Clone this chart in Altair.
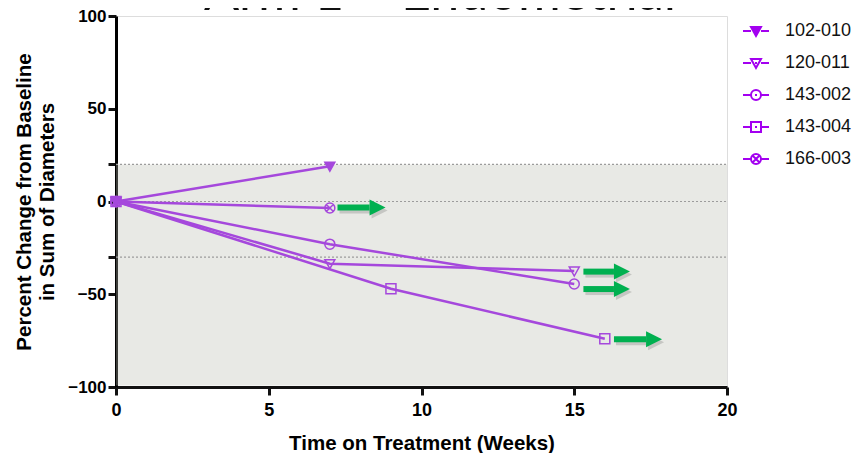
import altair as alt
import pandas as pd

# ---------------- data ----------------
TITLE = "Arm 1 – Endometrial"
SERIES = ["102-010", "120-011", "143-002", "143-004", "166-003"]
WEEKS = {
    "102-010": [0, 7],
    "120-011": [0, 7, 15],
    "143-002": [0, 7, 15],
    "143-004": [0, 9, 16],
    "166-003": [0, 7],
}
PCT = {
    "102-010": [0, 19],
    "120-011": [0, -33.5, -37.5],
    "143-002": [0, -23, -44.5],
    "143-004": [0, -47, -74],
    "166-003": [0, -3.5],
}
ARROW_SERIES = ["166-003", "120-011", "143-002", "143-004"]
ARROW_START = [7.25, 15.3, 15.3, 16.3]
ARROW_END = [8.3, 16.3, 16.3, 17.35]
ARROW_Y = [-3.3, -37.8, -47.2, -74.2]
BAND_X = [0, 20]
BAND_Y = [20, -100]
REF_LINES = [20, 0, -30]
X_TICKS = [0, 5, 10, 15, 20]
Y_TICKS = [-100, -50, -30, 0, 20, 50, 100]
X_DOMAIN = [0, 20]
Y_DOMAIN = [-100, 100]

# ---------------- styles ----------------
PURPLE = "#a548dc"
LEG_PURPLE = "#a300f0"
GREEN = "#00b050"
FONT = "Liberation Sans"

TRI = "M-1,-0.8L1,-0.8L0,1Z"
CIRC = "M-1,0A1,1 0 1,1 1,0A1,1 0 1,1 -1,0Z"
SQR = "M-1,-1L1,-1L1,1L-1,1Z"
CIRCX = CIRC + "M-0.7,-0.7L0.7,0.7M-0.7,0.7L0.7,-0.7"
SHAPES = [TRI, TRI, CIRC, SQR, CIRCX]
LINE_SEG = "M-2.6,0L-1,0M1,0L2.6,0M-0.2,0L0.2,0"
LEG_SHAPES = [LINE_SEG + s for s in SHAPES]
FILLS = [PURPLE, "transparent", "transparent", "transparent", "transparent"]
LEG_FILLS = [LEG_PURPLE, "transparent", "transparent", "transparent", "transparent"]
HEAD = "M0,-1L2,0L0,1Z"

rows = []
for s in SERIES:
    for w, p in zip(WEEKS[s], PCT[s]):
        rows.append({"series": s, "week": w, "pct": p})
df = pd.DataFrame(rows)

arrows = pd.DataFrame({"series": ARROW_SERIES, "x": ARROW_START,
                       "x2": ARROW_END, "y": ARROW_Y})
band = pd.DataFrame({"x": [BAND_X[0]], "x2": [BAND_X[1]],
                     "y": [BAND_Y[0]], "y2": [BAND_Y[1]]})
refs = pd.DataFrame({"y": REF_LINES, "x": [BAND_X[0]] * len(REF_LINES),
                     "x2": [BAND_X[1]] * len(REF_LINES)})
title_df = pd.DataFrame({"t": [TITLE]})

xscale = alt.Scale(domain=X_DOMAIN, nice=False, zero=False)
yscale = alt.Scale(domain=Y_DOMAIN, nice=False, zero=False)

x_axis = alt.Axis(values=X_TICKS, title="Time on Treatment (Weeks)", grid=False,
                  labelFont=FONT, labelFontWeight="bold", labelFontSize=18,
                  labelColor="#000", labelPadding=6, labelFlush=False,
                  domainColor="#111", domainWidth=3, tickColor="#111",
                  tickWidth=3, tickSize=8, titleFont=FONT, titleFontWeight="bold",
                  titleFontSize=20.5, titleColor="#000", titlePadding=14, zindex=0)
y_axis = alt.Axis(values=Y_TICKS, title=["Percent Change from Baseline", "in Sum of Diameters"],
                  grid=False, labelExpr="(datum.value == 20 || datum.value == -30) ? '' : datum.label",
                  labelFont=FONT, labelFontWeight="bold", labelFontSize=17,
                  labelColor="#000", labelPadding=2, labelFlush=False,
                  domainColor="#000", domainWidth=3, tickColor="#111",
                  tickWidth=3, tickSize=8, titleFont=FONT, titleFontWeight="bold",
                  titleFontSize=20.5, titleColor="#000", titlePadding=10,
                  titleLineHeight=23, zindex=0)

band_layer = alt.Chart(band).mark_rect(color="#b8bbaf", opacity=0.325, y2Offset=-1.5).encode(
    x=alt.X("x:Q", scale=xscale, axis=x_axis), x2="x2:Q",
    y=alt.Y("y:Q", scale=yscale, axis=y_axis), y2="y2:Q")

ref_layer = alt.Chart(refs).mark_rule(color="#9c9c9c", strokeWidth=1.2, strokeDash=[2, 2]).encode(
    x="x:Q", x2="x2:Q", y="y:Q")

line_layer = alt.Chart(df).mark_line(color=PURPLE, strokeWidth=2.5).encode(
    x="week:Q", y="pct:Q", detail="series:N", order="week:Q")

point_layers = []
for s, shp, fil in zip(SERIES, SHAPES, FILLS):
    point_layers.append(
        alt.Chart(df).transform_filter(alt.datum.series == s).mark_point(
            shape=shp, fill=fil, stroke=PURPLE, strokeWidth=1.5, opacity=1, size=100
        ).encode(x="week:Q", y="pct:Q")
    )

legend_def = alt.Legend(title=None, orient="none", legendX=631, legendY=6,
                        symbolSize=100, symbolStrokeWidth=2, symbolStrokeColor=LEG_PURPLE,
                        symbolOpacity=1, labelFont=FONT, labelFontSize=18,
                        labelColor="#111", labelOffset=20, rowPadding=14, padding=0)

legend_layer = alt.Chart(df).transform_filter("datum.week < -1000").mark_point(
    filled=False, strokeWidth=2, opacity=1, size=100).encode(
    x="week:Q", y="pct:Q",
    shape=alt.Shape("series:N", scale=alt.Scale(domain=SERIES, range=LEG_SHAPES), legend=legend_def),
    fill=alt.Fill("series:N", scale=alt.Scale(domain=SERIES, range=LEG_FILLS), legend=legend_def),
    stroke=alt.Stroke("series:N", scale=alt.Scale(domain=SERIES, range=[LEG_PURPLE] * len(SERIES)),
                      legend=legend_def))

shadow_rule = alt.Chart(arrows).mark_rule(color="#000", opacity=0.15, strokeWidth=6,
                                          xOffset=2, yOffset=3, x2Offset=2).encode(
    x="x:Q", x2="x2:Q", y="y:Q")
shadow_head = alt.Chart(arrows).mark_point(shape=HEAD, filled=True, color="#000", opacity=0.15,
                                           size=256, xOffset=2, yOffset=3, strokeWidth=0).encode(
    x="x2:Q", y="y:Q")
arrow_rule = alt.Chart(arrows).mark_rule(color=GREEN, strokeWidth=6).encode(
    x="x:Q", x2="x2:Q", y="y:Q")
arrow_head = alt.Chart(arrows).mark_point(shape=HEAD, filled=True, color=GREEN, opacity=1,
                                          size=256, strokeWidth=0).encode(
    x="x2:Q", y="y:Q")

title_layer = alt.Chart(title_df).mark_text(
    font="Lato", fontSize=52, color="#111", align="center", baseline="alphabetic"
).encode(x=alt.value(324), y=alt.value(-6), text="t:N")

chart = alt.layer(
    band_layer, ref_layer, line_layer, *point_layers, legend_layer,
    shadow_rule, shadow_head, arrow_rule, arrow_head, title_layer
).properties(
    width=611, height=371,
    autosize=alt.AutoSizeParams(type="none"),
    padding={"left": 108, "top": 8, "right": 126, "bottom": 66},
).configure_view(stroke=None).configure(background="white")

chart.save("out.html", embed_options={"renderer": "svg", "actions": False})
